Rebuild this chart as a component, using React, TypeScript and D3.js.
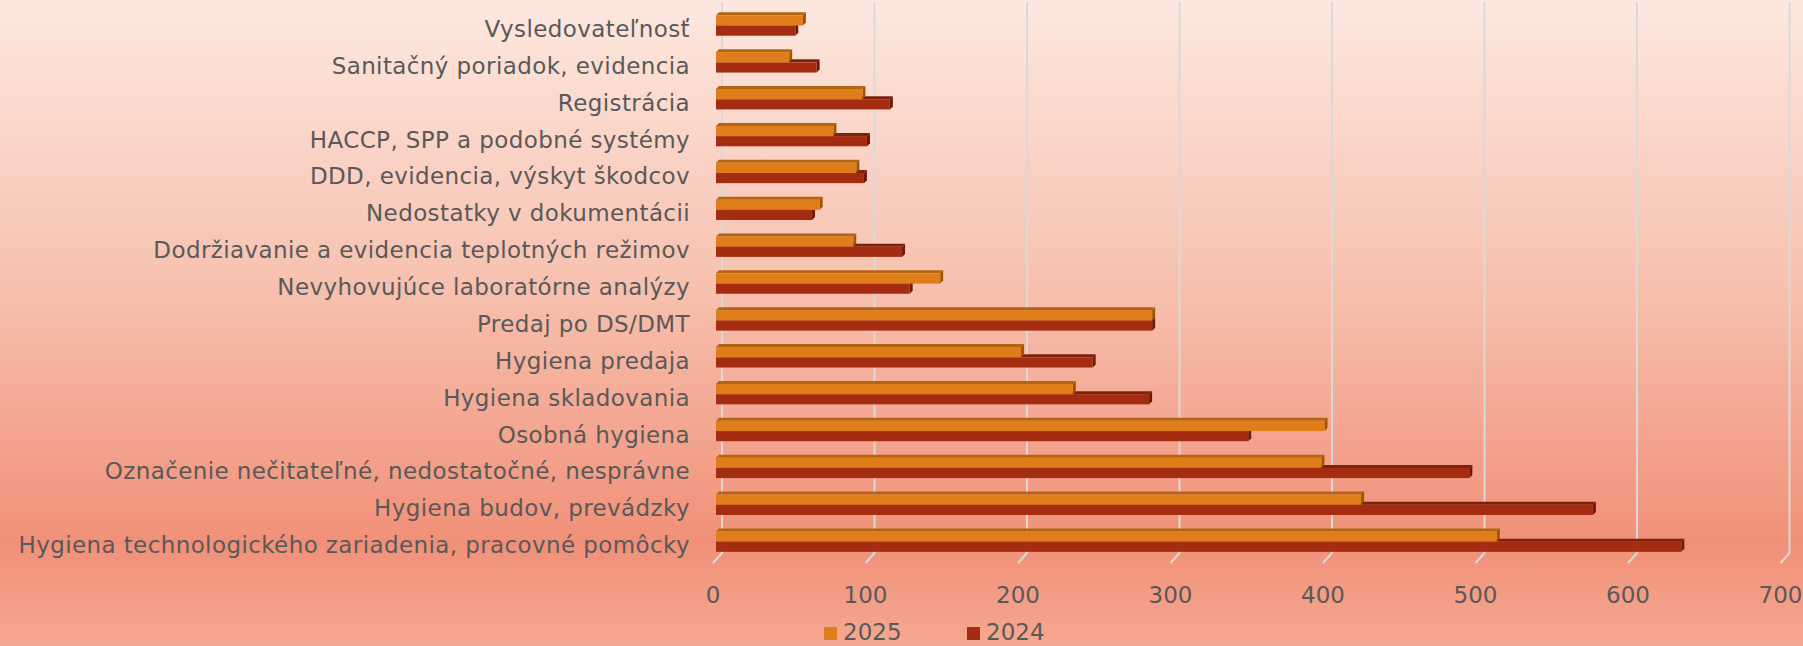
import * as d3 from "d3";

const categories = [
  "Vysledovateľnosť",
  "Sanitačný poriadok, evidencia",
  "Registrácia",
  "HACCP, SPP a podobné systémy",
  "DDD, evidencia, výskyt škodcov",
  "Nedostatky v dokumentácii",
  "Dodržiavanie a evidencia teplotných režimov",
  "Nevyhovujúce laboratórne analýzy",
  "Predaj po DS/DMT",
  "Hygiena predaja",
  "Hygiena skladovania",
  "Osobná hygiena",
  "Označenie nečitateľné, nedostatočné, nesprávne",
  "Hygiena budov, prevádzky",
  "Hygiena technologického zariadenia, pracovné pomôcky",
];

const values2025 = [57, 48, 96, 77, 92, 68, 90, 147, 286, 200, 234, 399, 397, 423, 512];
const values2024 = [52, 66, 114, 99, 97, 63, 122, 127, 286, 247, 284, 349, 494, 575, 633];

const tickValues = [0, 100, 200, 300, 400, 500, 600, 700];
const seriesNames = ["2025", "2024"];

const width = 1803;
const height = 646;

// floor-front x position of a value; bars sit a little behind, the wall further back
const x = d3.scaleLinear().domain([0, 700]).range([713, 1780.5]);
const y = d3.scaleBand<string>().domain(categories).range([2, 555]);

const barDepth = 3;
const wallDepth = 9;
const barH = 10.2;
const barOffset = 13.3;
const plotBottom = 553;

const palette = {
  "2025": { front: "#df7d1a", top: "#b2640f", side: "#9c540b" },
  "2024": { front: "#a42d11", top: "#7c220c", side: "#681b08" },
};

const fontFamily = "'DejaVu Sans', sans-serif";
const textColor = "#595959";

function Bar({ v, yTop, colors }: { v: number; yTop: number; colors: { front: string; top: string; side: string } }) {
  const d = barDepth;
  const x0 = x(0) + d;
  const x1 = x(v) + d;
  const top = `M${x0},${yTop}L${x0 + d},${yTop - d}L${x1 + d},${yTop - d}L${x1},${yTop}Z`;
  const side = `M${x1},${yTop}L${x1 + d},${yTop - d}L${x1 + d},${yTop + barH - d}L${x1},${yTop + barH}Z`;
  return (
    <g>
      <path d={top} fill={colors.top} />
      <path d={side} fill={colors.side} />
      <rect x={x0} y={yTop} width={x1 - x0} height={barH} fill={colors.front} />
    </g>
  );
}

export default function App() {
  return (
    <>
      <style>{`body{margin:0}`}</style>
      <svg width={width} height={height} style={{ display: "block" }}>
        <defs>
          <linearGradient id="bg" x1="0" y1="0" x2="0" y2="1">
            <stop offset="0" stopColor="#fde8e0" />
            <stop offset="0.45" stopColor="#f7c0ae" />
            <stop offset="0.84" stopColor="#f19078" />
            <stop offset="1" stopColor="#f5a891" />
          </linearGradient>
        </defs>
        <rect width={width} height={height} fill="url(#bg)" />

        {/* gridlines on the back wall with the floor edge */}
        {tickValues.map((t) => (
          <path
            key={t}
            d={`M${x(t) + wallDepth},2V${plotBottom}L${x(t)},${plotBottom + 10}`}
            fill="none"
            stroke="#d9d9d9"
            strokeWidth={2}
          />
        ))}

        {/* bars: 2024 first so the 2025 bar covers its top face */}
        {categories.map((c, i) => {
          const yTop = (y(c) ?? 0) + barOffset;
          return (
            <g key={c}>
              <Bar v={values2024[i]} yTop={yTop + barH} colors={palette["2024"]} />
              <Bar v={values2025[i]} yTop={yTop} colors={palette["2025"]} />
            </g>
          );
        })}

        {/* category labels */}
        {categories.map((c) => (
          <text
            key={c}
            x={690}
            y={(y(c) ?? 0) + 35}
            textAnchor="end"
            fontFamily={fontFamily}
            fontSize={23}
            letterSpacing={0.4}
            fill={textColor}
          >
            {c}
          </text>
        ))}

        {/* value axis labels */}
        {tickValues.map((t) => (
          <text
            key={t}
            x={x(t)}
            y={603}
            textAnchor="middle"
            fontFamily={fontFamily}
            fontSize={23}
            fill={textColor}
          >
            {t}
          </text>
        ))}

        {/* legend */}
        {seriesNames.map((s, i) => {
          const lx = 824 + i * 143;
          return (
            <g key={s}>
              <rect x={lx} y={627} width={13} height={13} fill={palette[s as "2025" | "2024"].front} />
              <text x={lx + 19} y={640} fontFamily={fontFamily} fontSize={23} fill={textColor}>
                {s}
              </text>
            </g>
          );
        })}
      </svg>
    </>
  );
}
